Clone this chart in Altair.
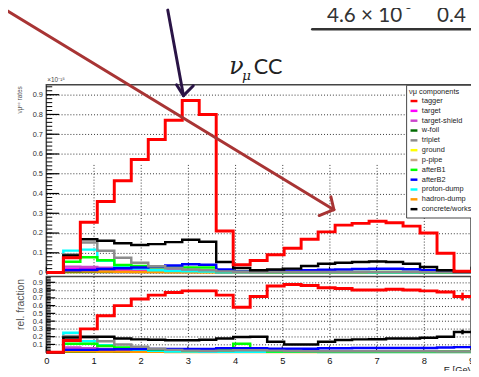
import altair as alt
import pandas as pd

# ---------------- data ----------------
edges = [0.0, 0.36, 0.72, 1.08, 1.44, 1.8, 2.16, 2.52, 2.88, 3.24, 3.6, 3.96, 4.32,
         4.68, 5.04, 5.4, 5.76, 6.12, 6.48, 6.84, 7.2, 7.56, 7.92, 8.28, 8.64, 9.0]

components = ["tagger", "target", "target-shield", "w-foil", "triplet", "ground", "p-pipe",
              "afterB1", "afterB2", "proton-dump", "hadron-dump", "concrete/works"]
colors = ["#ff0000", "#ff00ff", "#cc44cc", "#006a00", "#8c8c8c", "#ffff00", "#c8a888",
          "#00ff00", "#0000ff", "#00ffff", "#ff9900", "#000000"]
draw_order = ["ground", "w-foil", "p-pipe", "target", "target-shield", "hadron-dump",
              "proton-dump", "afterB1", "afterB2", "triplet", "concrete/works", "tagger"]

# nu_mu CC rates (x 1e-15), 25 bins
rate_tagger = [0.0, 0.075, 0.255, 0.36, 0.465, 0.572, 0.673, 0.771, 0.871, 0.80, 0.21, 0.04, 0.061,
               0.09, 0.123, 0.169, 0.206, 0.24, 0.249, 0.26, 0.252, 0.235, 0.20, 0.098, 0.007]
rate_target = [0.0, 0.02, 0.02, 0.017, 0.014, 0.012, 0.01, 0.009, 0.008, 0.007, 0.003, 0.002, 0.001,
               0.001, 0.001, 0.001, 0.001, 0.001, 0.001, 0.001, 0.001, 0.001, 0.001, 0.0, 0.0]
rate_target_shield = [0.0, 0.03, 0.028, 0.024, 0.02, 0.017, 0.015, 0.013, 0.012, 0.011, 0.005, 0.002, 0.002,
                      0.002, 0.002, 0.002, 0.002, 0.002, 0.002, 0.002, 0.002, 0.002, 0.001, 0.001, 0.0]
rate_w_foil = [0.0, 0.004, 0.005, 0.005, 0.004, 0.004, 0.004, 0.004, 0.004, 0.004, 0.002, 0.001, 0.001,
               0.001, 0.001, 0.001, 0.001, 0.001, 0.001, 0.001, 0.001, 0.001, 0.0, 0.0, 0.0]
rate_triplet = [0.0, 0.092, 0.152, 0.11, 0.075, 0.05, 0.032, 0.022, 0.016, 0.012, 0.006, 0.004, 0.003,
                0.003, 0.003, 0.003, 0.003, 0.003, 0.003, 0.003, 0.003, 0.003, 0.002, 0.001, 0.0]
rate_ground = [0.0, 0.003, 0.004, 0.004, 0.004, 0.004, 0.004, 0.004, 0.004, 0.003, 0.002, 0.001, 0.001,
               0.001, 0.001, 0.001, 0.001, 0.001, 0.001, 0.001, 0.001, 0.001, 0.0, 0.0, 0.0]
rate_p_pipe = [0.0, 0.012, 0.014, 0.012, 0.011, 0.01, 0.01, 0.009, 0.009, 0.009, 0.004, 0.002, 0.002,
               0.002, 0.002, 0.002, 0.002, 0.002, 0.002, 0.002, 0.002, 0.002, 0.001, 0.001, 0.0]
rate_afterB1 = [0.0, 0.055, 0.078, 0.062, 0.038, 0.033, 0.027, 0.026, 0.026, 0.026, 0.008, 0.005, 0.004,
                0.003, 0.003, 0.003, 0.003, 0.003, 0.003, 0.003, 0.003, 0.003, 0.002, 0.001, 0.0]
rate_afterB2 = [0.0, 0.012, 0.013, 0.018, 0.022, 0.026, 0.03, 0.036, 0.042, 0.04, 0.015, 0.006, 0.006,
                0.008, 0.01, 0.012, 0.014, 0.016, 0.018, 0.019, 0.019, 0.017, 0.012, 0.005, 0.002]
rate_proton_dump = [0.0, 0.111, 0.116, 0.06, 0.035, 0.02, 0.012, 0.008, 0.006, 0.005, 0.002, 0.001, 0.001,
                    0.001, 0.001, 0.001, 0.001, 0.001, 0.001, 0.0, 0.0, 0.0, 0.0, 0.0, 0.0]
rate_hadron_dump = [0.0, 0.006, 0.006, 0.005, 0.004, 0.003, 0.003, 0.002, 0.002, 0.002, 0.001, 0.0, 0.0,
                    0.0, 0.0, 0.0, 0.0, 0.0, 0.0, 0.0, 0.0, 0.0, 0.0, 0.0, 0.0]
rate_concrete = [0.0, 0.086, 0.169, 0.161, 0.148, 0.139, 0.144, 0.154, 0.166, 0.156, 0.053, 0.023, 0.012,
                 0.015, 0.02, 0.033, 0.045, 0.05, 0.053, 0.056, 0.053, 0.045, 0.028, 0.012, 0.005]

# relative fractions, 25 bins
frac_tagger = [0.0, 0.15, 0.30, 0.47, 0.60, 0.685, 0.735, 0.77, 0.79, 0.79, 0.735, 0.578, 0.717,
               0.852, 0.873, 0.86, 0.831, 0.82, 0.80, 0.80, 0.81, 0.80, 0.79, 0.776, 0.717]
frac_target = [0.0, 0.04, 0.035, 0.03, 0.025, 0.02, 0.015, 0.012, 0.01, 0.009, 0.01, 0.01, 0.008,
               0.008, 0.008, 0.008, 0.008, 0.008, 0.008, 0.008, 0.008, 0.008, 0.008, 0.008, 0.008]
frac_target_shield = [0.0, 0.06, 0.05, 0.04, 0.032, 0.026, 0.02, 0.016, 0.014, 0.012, 0.015, 0.015, 0.014,
                      0.012, 0.012, 0.012, 0.012, 0.012, 0.012, 0.012, 0.012, 0.012, 0.012, 0.012, 0.012]
frac_w_foil = [0.0, 0.008, 0.008, 0.007, 0.006, 0.005, 0.005, 0.005, 0.004, 0.004, 0.004, 0.004, 0.004,
               0.004, 0.004, 0.004, 0.004, 0.004, 0.004, 0.004, 0.004, 0.004, 0.004, 0.004, 0.004]
frac_triplet = [0.0, 0.21, 0.19, 0.14, 0.10, 0.07, 0.045, 0.03, 0.02, 0.016, 0.02, 0.025, 0.025,
                0.02, 0.015, 0.012, 0.012, 0.012, 0.012, 0.012, 0.012, 0.012, 0.012, 0.01, 0.01]
frac_ground = [0.0, 0.006, 0.006, 0.006, 0.005, 0.005, 0.005, 0.004, 0.004, 0.004, 0.004, 0.004, 0.004,
               0.004, 0.004, 0.004, 0.004, 0.004, 0.004, 0.004, 0.004, 0.004, 0.004, 0.004, 0.004]
frac_p_pipe = [0.0, 0.025, 0.025, 0.022, 0.02, 0.018, 0.016, 0.015, 0.014, 0.014, 0.02, 0.025, 0.02,
               0.015, 0.012, 0.012, 0.012, 0.012, 0.012, 0.012, 0.012, 0.012, 0.012, 0.012, 0.012]
frac_afterB1 = [0.0, 0.11, 0.11, 0.08, 0.06, 0.05, 0.035, 0.03, 0.025, 0.025, 0.025, 0.11, 0.03,
                0.01, 0.01, 0.01, 0.01, 0.01, 0.01, 0.01, 0.01, 0.01, 0.01, 0.01, 0.01]
frac_afterB2 = [0.0, 0.03, 0.03, 0.035, 0.038, 0.04, 0.04, 0.04, 0.04, 0.04, 0.05, 0.05, 0.05,
                0.045, 0.045, 0.045, 0.05, 0.05, 0.055, 0.055, 0.055, 0.055, 0.055, 0.06, 0.065]
frac_proton_dump = [0.0, 0.25, 0.14, 0.09, 0.055, 0.03, 0.017, 0.01, 0.007, 0.006, 0.006, 0.006, 0.005,
                    0.005, 0.004, 0.004, 0.003, 0.003, 0.003, 0.002, 0.002, 0.002, 0.002, 0.002, 0.002]
frac_hadron_dump = [0.0, 0.012, 0.011, 0.009, 0.007, 0.005, 0.004, 0.003, 0.003, 0.003, 0.003, 0.003, 0.002,
                    0.002, 0.002, 0.002, 0.002, 0.002, 0.002, 0.002, 0.002, 0.002, 0.002, 0.002, 0.002]
frac_concrete = [0.0, 0.19, 0.20, 0.20, 0.177, 0.165, 0.16, 0.154, 0.154, 0.16, 0.177, 0.195, 0.198,
                 0.135, 0.10, 0.10, 0.135, 0.156, 0.165, 0.168, 0.177, 0.177, 0.185, 0.198, 0.26]

# statistical error bars on the last bins of the ratio panel
err_E = [8.46, 8.82]
err_tagger = [0.015, 0.05]
err_concrete = [0.01, 0.03]

y_top_ticks = [0, 0.1, 0.2, 0.3, 0.4, 0.5, 0.6, 0.7, 0.8, 0.9]
y_rat_ticks = [0.1, 0.2, 0.3, 0.4, 0.5, 0.6, 0.7, 0.8, 0.9]
x_ticks = [0, 1, 2, 3, 4, 5, 6, 7, 8, 9]

rates = {"tagger": rate_tagger, "target": rate_target, "target-shield": rate_target_shield,
         "w-foil": rate_w_foil, "triplet": rate_triplet, "ground": rate_ground, "p-pipe": rate_p_pipe,
         "afterB1": rate_afterB1, "afterB2": rate_afterB2, "proton-dump": rate_proton_dump,
         "hadron-dump": rate_hadron_dump, "concrete/works": rate_concrete}
fracs = {"tagger": frac_tagger, "target": frac_target, "target-shield": frac_target_shield,
         "w-foil": frac_w_foil, "triplet": frac_triplet, "ground": frac_ground, "p-pipe": frac_p_pipe,
         "afterB1": frac_afterB1, "afterB2": frac_afterB2, "proton-dump": frac_proton_dump,
         "hadron-dump": frac_hadron_dump, "concrete/works": frac_concrete}

FONT = "Liberation Sans"
W, H = 432, 272


def steps(name, vals):
    return pd.DataFrame({"E": edges, "v": list(vals) + [vals[-1]], "comp": name})


# ---------------- scales / axes ----------------
xscale = alt.Scale(domain=[0, 9], nice=False, zero=False)
xaxis = alt.Axis(values=x_ticks, grid=True, gridDash=[1, 2], gridColor="#333", gridOpacity=1,
                 ticks=False, domain=False, labelFontSize=9.5, labelPadding=4, labelFont=FONT,
                 labelColor="#111", labelFlush=False, title="E [GeV]", titleFontSize=9.5,
                 titleFont=FONT, titleFontWeight="normal", titleColor="#222",
                 titleX=437, titleY=13, titleAlign="right", titleBaseline="top")

ytop_scale = alt.Scale(domain=[0, 0.95], range=[191, 0], nice=False, zero=False)
ytop_axis = alt.Axis(orient="left", values=y_top_ticks,
                     labelExpr="datum.value == 0 ? '0' : format(datum.value, '.1f')",
                     grid=True, gridDash=[1, 2], gridColor="#333", gridOpacity=1,
                     ticks=False, domain=False, labelFontSize=7.5, labelPadding=4, labelFont=FONT,
                     labelColor="#333", title="νμᶜᶜ rates", titleFontSize=6.5, titleFont=FONT,
                     titleFontWeight="normal", titleColor="#555", titleAngle=270,
                     titleX=-27, titleY=1, titleAlign="right", titleBaseline="middle")

yrat_scale = alt.Scale(domain=[0, 0.975], range=[272, 195], nice=False, zero=False)
yrat_axis = alt.Axis(orient="left", values=y_rat_ticks, format=".1f",
                     grid=True, gridDash=[1, 2], gridColor="#333", gridOpacity=1,
                     ticks=False, domain=False, labelFontSize=7.5, labelPadding=4, labelFont=FONT,
                     labelColor="#333", title="rel. fraction", titleFontSize=10.5, titleFont=FONT,
                     titleFontWeight="normal", titleColor="#555", titleAngle=270,
                     titleX=-26, titleY=197, titleAlign="right", titleBaseline="middle")

legend = alt.Legend(orient="none", legendX=366, legendY=0, title="νμ components",
                    symbolType="stroke", symbolSize=49, symbolStrokeWidth=2.5,
                    labelFontSize=7.5, titleFontSize=7.5, titleFontWeight="normal",
                    labelFont=FONT, titleFont=FONT, labelColor="#222", titleColor="#222",
                    padding=3, rowPadding=-2.0, titlePadding=1, labelOffset=3, labelLimit=200,
                    fillColor="white", strokeColor="#444")
color = alt.Color("comp:N", scale=alt.Scale(domain=components, range=colors), legend=legend)


def panel(values, yscale, yaxis, frame_top, major_len, minor_len, minor_ticks, major_ticks, y_base):
    layers = []
    # frame
    layers.append(alt.Chart(pd.DataFrame({"x0": [0], "x1": [9], "y0": [0], "y1": [frame_top]}))
                  .mark_rect(filled=False, stroke="#444", strokeWidth=1.5)
                  .encode(x=alt.X("x0:Q", scale=xscale, axis=xaxis), x2="x1:Q",
                          y=alt.Y("y0:Q", scale=yscale, axis=yaxis), y2="y1:Q"))
    # y tick combs
    layers.append(alt.Chart(pd.DataFrame({"t": minor_ticks})).mark_rule(color="black", strokeWidth=1)
                  .encode(y=alt.Y("t:Q", scale=yscale, axis=yaxis), x=alt.value(0), x2=alt.value(minor_len)))
    layers.append(alt.Chart(pd.DataFrame({"t": major_ticks})).mark_rule(color="black", strokeWidth=1.2)
                  .encode(y=alt.Y("t:Q", scale=yscale, axis=yaxis), x=alt.value(0), x2=alt.value(major_len)))
    # x ticks
    layers.append(alt.Chart(pd.DataFrame({"t": x_ticks})).mark_rule(color="black", strokeWidth=1)
                  .encode(x=alt.X("t:Q", scale=xscale, axis=xaxis), y=alt.value(y_base), y2=alt.value(y_base - 6)))
    # histograms
    for c in draw_order:
        sw = 3 if c == "tagger" else 2.5
        layers.append(alt.Chart(steps(c, values[c]))
                      .mark_line(interpolate="step-after", strokeWidth=sw, strokeJoin="miter")
                      .encode(x=alt.X("E:Q", scale=xscale, axis=xaxis),
                              y=alt.Y("v:Q", scale=yscale, axis=yaxis),
                              color=color))
    return layers


top_minor = [round(i * 0.02, 2) for i in range(48)]
rat_minor = [round(i * 0.02, 2) for i in range(49)]

top_layers = panel(rates, ytop_scale, ytop_axis, 0.95, 13, 6, top_minor, y_top_ticks, 191)
rat_layers = panel(fracs, yrat_scale, yrat_axis, 0.975, 9, 4.5, rat_minor, [0] + y_rat_ticks, 272)

err_df = pd.DataFrame({
    "E": err_E + err_E,
    "lo": [frac_tagger[23] - err_tagger[0], frac_tagger[24] - err_tagger[1],
           frac_concrete[23] - err_concrete[0], frac_concrete[24] - err_concrete[1]],
    "hi": [frac_tagger[23] + err_tagger[0], frac_tagger[24] + err_tagger[1],
           frac_concrete[23] + err_concrete[0], frac_concrete[24] + err_concrete[1]],
    "comp": ["tagger", "tagger", "concrete/works", "concrete/works"]})
rat_layers.append(alt.Chart(err_df).mark_rule(strokeWidth=2.5)
                  .encode(x=alt.X("E:Q", scale=xscale, axis=xaxis),
                          y=alt.Y("lo:Q", scale=yrat_scale, axis=yrat_axis), y2="hi:Q",
                          color=color))

top_panel = alt.layer(*top_layers)
rat_panel = alt.layer(*rat_layers)

dummy = pd.DataFrame({"a": [0]})


def text(t, x, y, size, font="Lato", style="normal", c="#222", align="left", baseline="alphabetic"):
    return alt.Chart(dummy).mark_text(text=t, fontSize=size, font=font, fontStyle=style, color=c,
                                      align=align, baseline=baseline).encode(x=alt.value(x), y=alt.value(y))


def seg(x1, y1, x2, y2, c, w):
    return alt.Chart(dummy).mark_rule(color=c, strokeWidth=w, strokeCap="round").encode(
        x=alt.value(x1), y=alt.value(y1), x2=alt.value(x2), y2=alt.value(y2))


annotations = [
    # title nu_mu CC
    text("ν", 186, -11, 24, font="DejaVu Serif", style="italic"),
    text("μ", 199, -5, 14, font="DejaVu Serif", style="italic"),
    text("CC", 211, -11.5, 22),
    text("×10⁻¹⁵", 1, -3, 6.5, font=FONT, c="#444"),
    # slide text at top
    text("4.6 × 10", 285.5, -64, 21, c="#333"),
    text("-5", 361, -77, 12, c="#333"),
    text("0.4", 397.5, -64, 21, c="#333"),
    seg(270.5, -56.5, 440, -56.5, "#333", 2.5),
    # purple arrow
    seg(123.5, -76, 139.5, 11, "#2a1446", 3),
    seg(132.5, 0, 139.5, 11, "#2a1446", 3),
    seg(149.5, 1, 139.5, 11, "#2a1446", 3),
    # red arrow
    seg(-40, -75.5, 292.5, 127, "#a83434", 3),
    seg(289.5, 114, 292.5, 127, "#a83434", 3),
    seg(277.5, 133, 292.5, 127, "#a83434", 3),
]

chart = (alt.layer(top_panel, rat_panel, *annotations)
         .resolve_scale(y="independent")
         .properties(width=W, height=H, autosize="none",
                     padding={"left": 39, "top": 75, "right": 0, "bottom": 16},
                     background="white")
         .configure_view(stroke="transparent"))

chart.save("out.html", embed_options={"renderer": "svg", "actions": False})
